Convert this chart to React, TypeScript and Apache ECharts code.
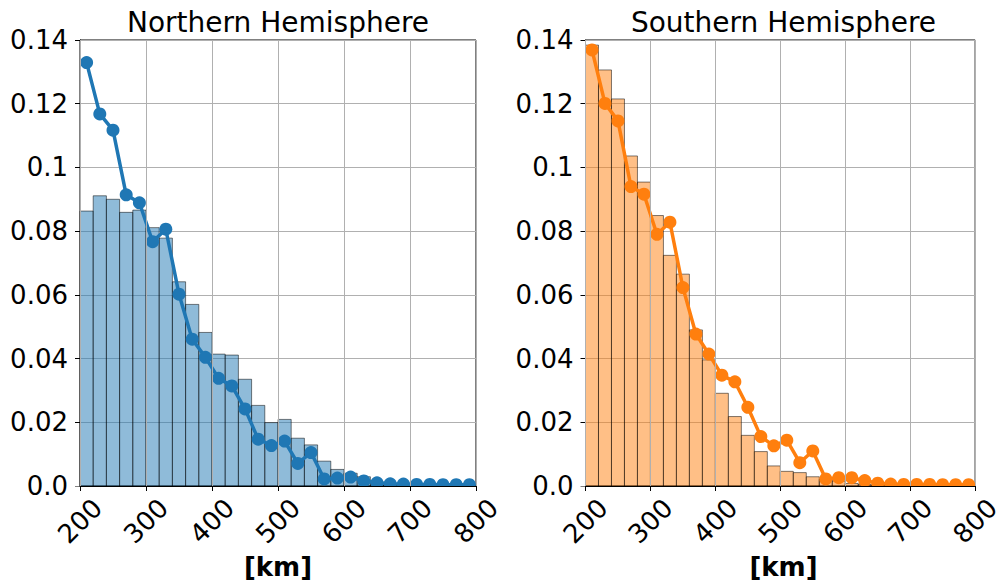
import React, { useEffect, useRef } from "react";
import * as echarts from "echarts";

// Histogram bin edges (km)
const binEdges = [200, 220, 240, 260, 280, 300, 320, 340, 360, 380, 400, 420, 440, 460, 480, 500, 520, 540, 560, 580, 600, 620, 640, 660, 680, 700, 720, 740, 760, 780, 800];
// Bin centres (km) for the line
const binCenters = [210, 230, 250, 270, 290, 310, 330, 350, 370, 390, 410, 430, 450, 470, 490, 510, 530, 550, 570, 590, 610, 630, 650, 670, 690, 710, 730, 750, 770, 790];

const northBars = [0.0863, 0.0911, 0.09, 0.0859, 0.0866, 0.0811, 0.0778, 0.0641, 0.057, 0.0482, 0.0414, 0.0411, 0.0335, 0.0253, 0.0199, 0.0209, 0.015, 0.0129, 0.0078, 0.0052, 0.004, 0.0029, 0.0012, 0.0008, 0.0006, 0.0004, 0.0003, 0.0002, 0.0002, 0.0001];
const northLine = [0.1329, 0.1168, 0.1117, 0.0914, 0.0889, 0.0767, 0.0806, 0.0602, 0.0461, 0.0404, 0.0338, 0.0314, 0.0242, 0.0147, 0.0127, 0.0141, 0.0071, 0.0105, 0.0022, 0.0025, 0.0028, 0.0016, 0.001, 0.0007, 0.0006, 0.0005, 0.0005, 0.0004, 0.0004, 0.0004];

const southBars = [0.1384, 0.1306, 0.1215, 0.1036, 0.0954, 0.0849, 0.0724, 0.0665, 0.049, 0.0396, 0.0291, 0.0218, 0.0159, 0.0108, 0.0063, 0.0046, 0.0042, 0.0029, 0.0021, 0.0016, 0.0008, 0.0005, 0.0003, 0.0002, 0.0002, 0.0001, 0.0001, 0.0001, 0.0001, 0.0001];
const southLine = [0.1369, 0.1201, 0.1146, 0.094, 0.0916, 0.079, 0.0828, 0.0623, 0.0477, 0.0414, 0.0348, 0.0327, 0.0247, 0.0155, 0.0126, 0.0144, 0.0073, 0.011, 0.0022, 0.0026, 0.0026, 0.0017, 0.0009, 0.0006, 0.0005, 0.0005, 0.0005, 0.0004, 0.0004, 0.0004];

const titles = ["Northern Hemisphere", "Southern Hemisphere"];
const xAxisLabel = "[km]";
const xRange = [200, 800];
const yRange = [0, 0.14];

const FONT = "DejaVu Sans";

const grids = [
  { left: 80, right: 528, top: 40, bottom: 96 },
  { left: 585.5, right: 22.5, top: 40, bottom: 96 },
];

const panels = [
  { bars: northBars, line: northLine, color: "#1f77b4", fill: "rgba(31,119,180,0.5)" },
  { bars: southBars, line: southLine, color: "#ff7f0e", fill: "rgba(255,127,14,0.5)" },
];

export default function App() {
  const ref = useRef<HTMLDivElement>(null);
  useEffect(() => {
    if (!ref.current) return;
    const chart = echarts.init(ref.current, undefined, { renderer: "svg" });

    const xAxes = grids.map((_, i) => ({
      type: "value",
      gridIndex: i,
      min: xRange[0],
      max: xRange[1],
      interval: 100,
      z: 10,
      axisLine: { show: true, onZero: false, lineStyle: { color: "#000", width: 1 } },
      axisTick: { show: true, length: 5, lineStyle: { color: "#000", width: 1 } },
      splitLine: { show: true, lineStyle: { color: "#b0b0b0", width: 1 } },
      axisLabel: {
        show: true,
        rotate: 45,
        align: "center",
        verticalAlign: "middle",
        margin: 35,
        fontSize: 26,
        fontFamily: FONT,
        color: "#000",
        showMinLabel: true,
        showMaxLabel: true,
      },
    }));

    const yAxes = grids.map((_, i) => ({
      type: "value",
      gridIndex: i,
      min: yRange[0],
      max: yRange[1],
      interval: 0.02,
      axisLine: { show: true, onZero: false, lineStyle: { color: "#000", width: 1 } },
      axisTick: { show: true, length: 5, lineStyle: { color: "#000", width: 1 } },
      splitLine: { show: true, lineStyle: { color: "#b0b0b0", width: 1 } },
      axisLabel: {
        show: true,
        margin: 12,
        fontSize: 26,
        fontFamily: FONT,
        color: "#000",
        showMinLabel: true,
        showMaxLabel: true,
        formatter: (v: number) => (v === 0 ? "0.0" : String(parseFloat(v.toFixed(2)))),
      },
    }));

    const series: any[] = [];
    panels.forEach((p, i) => {
      const barData = p.bars.map((v, k) => [binEdges[k], binEdges[k + 1], v]);
      series.push({
        type: "custom",
        xAxisIndex: i,
        yAxisIndex: i,
        z: 2,
        encode: { x: [0, 1], y: 2 },
        data: barData,
        renderItem: (params: any, api: any) => {
          const x0 = api.value(0);
          const x1 = api.value(1);
          const v = api.value(2);
          const p0 = api.coord([x0, v]);
          const p1 = api.coord([x1, 0]);
          return {
            type: "rect",
            shape: { x: p0[0], y: p0[1], width: p1[0] - p0[0], height: p1[1] - p0[1] },
            style: { fill: p.fill, stroke: "rgba(0,0,0,0.5)", lineWidth: 1 },
          };
        },
      });
      series.push({
        type: "line",
        xAxisIndex: i,
        yAxisIndex: i,
        z: 3,
        data: binCenters.map((c, k) => [c, p.line[k]]),
        symbol: "circle",
        symbolSize: 13,
        showSymbol: true,
        lineStyle: { color: p.color, width: 3.5 },
        itemStyle: { color: p.color },
      });
    });

    const graphic: any[] = [];
    grids.forEach((g, i) => {
      const x0 = g.left;
      const x1 = 1004 - g.right;
      const cx = (x0 + x1) / 2;
      // white mask below the plot area (clips markers at the axis like the original)
      graphic.push({
        type: "rect",
        z: 5,
        silent: true,
        shape: { x: x0 - 8, y: 582 - g.bottom + 0.5, width: x1 - x0 + 16, height: 8 },
        style: { fill: "#fff" },
      });
      graphic.push({
        type: "text",
        x: cx,
        y: 22,
        style: {
          text: titles[i],
          fontSize: 28,
          fontFamily: FONT,
          fill: "#000",
          align: "center",
          verticalAlign: "middle",
        },
      });
      graphic.push({
        type: "text",
        x: cx,
        y: 567,
        style: {
          text: xAxisLabel,
          fontSize: 26,
          fontWeight: "bold",
          fontFamily: FONT,
          fill: "#000",
          align: "center",
          verticalAlign: "middle",
        },
      });
    });

    chart.setOption({
      animation: false,
      backgroundColor: "#fff",
      grid: grids.map((g) => ({ ...g, show: true, borderColor: "#000", borderWidth: 1, backgroundColor: "transparent" })),
      xAxis: xAxes,
      yAxis: yAxes,
      series,
      graphic,
    });

    return () => chart.dispose();
  }, []);

  return (
    <div
      ref={ref}
      style={{ position: "fixed", left: 0, top: 0, width: 1004, height: 582 }}
    />
  );
}
